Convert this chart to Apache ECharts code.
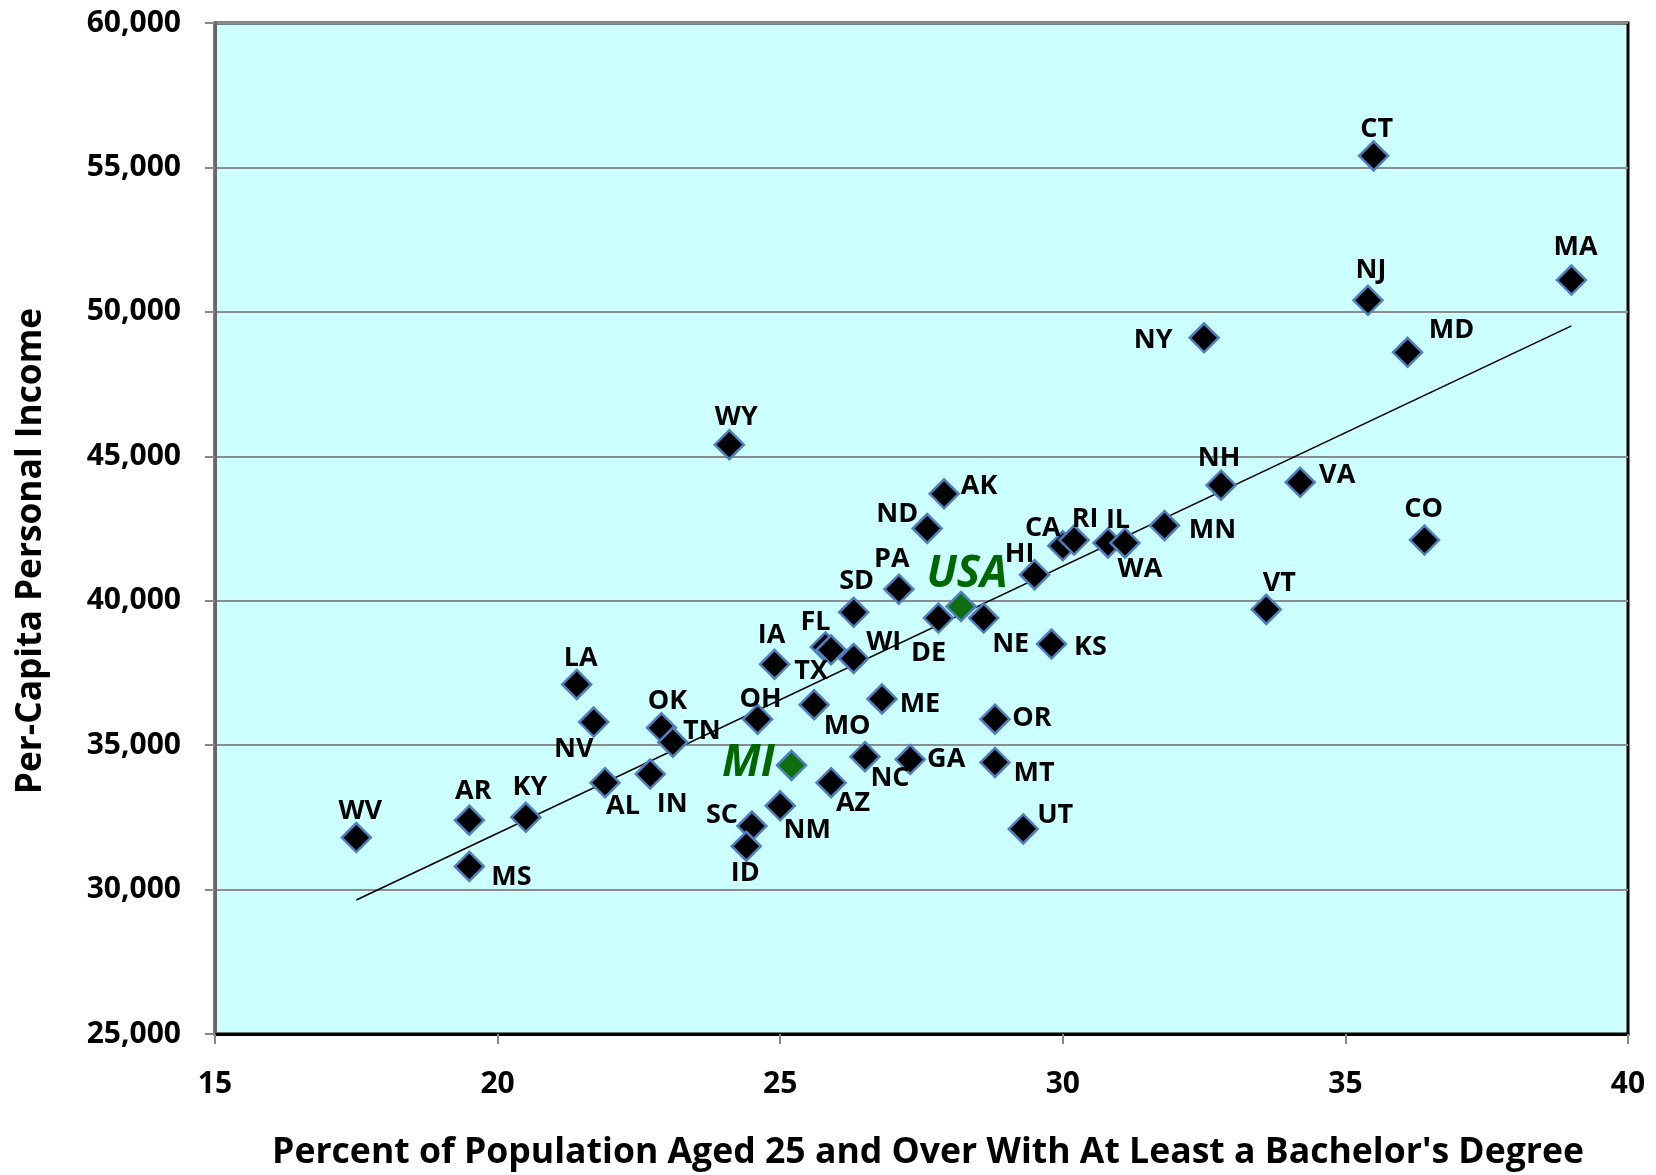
<!DOCTYPE html>
<html>
<head>
<meta charset="utf-8">
<script src="https://cdn.jsdelivr.net/npm/echarts@6/dist/echarts.min.js"></script>
<style>
html,body{margin:0;padding:0;background:#fff;}
#chart{width:1656px;height:1175px;}
</style>
</head>
<body>
<div id="chart"></div>
<script>
// ---- Data ----
const states = ["WV","AR","MS","KY","LA","NV","AL","IN","OK","TN","WY","SC","ID","OH","IA","NM","MO","FL","TX","WI","SD","AZ","NC","ME","PA","GA","ND","AK","DE","NE","OR","MT","UT","HI","KS","CA","RI","IL","WA","MN","NY","NH","VT","VA","NJ","CT","MD","CO","MA"];
const bachelorPct = [17.5,19.5,19.5,20.5,21.4,21.7,21.9,22.7,22.9,23.1,24.1,24.5,24.4,24.6,24.9,25.0,25.6,25.8,25.9,26.3,26.3,25.9,26.5,26.8,27.1,27.3,27.6,27.9,27.8,28.6,28.8,28.8,29.3,29.5,29.8,30.0,30.2,30.8,31.1,31.8,32.5,32.8,33.6,34.2,35.4,35.5,36.1,36.4,39.0];
const perCapitaIncome = [31800,32400,30800,32500,37100,35800,33700,34000,35600,35100,45400,32200,31500,35900,37800,32900,36400,38400,38300,38000,39600,33700,34600,36600,40400,34500,42500,43700,39400,39400,35900,34400,32100,40900,38500,41900,42100,42000,42000,42600,49100,44000,39700,44100,50400,55400,48600,42100,51100];
const highlightNames = ["USA","MI"];
const highlightPct = [28.2,25.2];
const highlightIncome = [39800,34300];
const xTicks = {min:15, max:40, interval:5};
const yTicks = {min:25000, max:60000, interval:5000};
const xTitle = "Percent of Population Aged 25 and Over With At Least a Bachelor's Degree";
const yTitle = "Per-Capita Personal Income";

// ---- Layout: label offsets (px) relative to marker centres ----
const labelOffsets = {
  WV:[4,-26],AR:[4,-29],MS:[42,11],KY:[4,-30],LA:[4,-26],NV:[-20,27],AL:[18,24],IN:[22,30],
  OK:[6,-26],TN:[29,-11],WY:[7,-27],SC:[-30,-11],ID:[-1,27],OH:[3,-20],IA:[-3,-29],NM:[27,25],
  MO:[33,22],FL:[-10,-25],TX:[-20,21],WI:[30,-16],SD:[3,-31],AZ:[22,21],NC:[25,22],ME:[38,5],
  PA:[-7,-30],GA:[36,0],ND:[-30,-14],AK:[35,-8],DE:[-10,35],NE:[27,26],OR:[37,-1],MT:[39,11],
  UT:[32,-14],HI:[-15,-20],KS:[39,3],CA:[-20,-18],RI:[11,-21],IL:[10,-23],WA:[15,26],MN:[48,5],
  NY:[-51,2],NH:[-2,-27],VT:[13,-26],VA:[37,-7],NJ:[3,-30],CT:[3,-27],MD:[44,-22],CO:[-1,-31],MA:[4,-33],
  USA:[6,-32],MI:[-43,-2]
};

// least-squares trendline from the state data
const n = bachelorPct.length;
let sx=0,sy=0,sxx=0,sxy=0;
for(let i=0;i<n;i++){sx+=bachelorPct[i];sy+=perCapitaIncome[i];sxx+=bachelorPct[i]*bachelorPct[i];sxy+=bachelorPct[i]*perCapitaIncome[i];}
const slope=(n*sxy-sx*sy)/(n*sxx-sx*sx);
const icpt=(sy-slope*sx)/n;
const xMin=Math.min(...bachelorPct), xMax=Math.max(...bachelorPct);
const trend=[[xMin,icpt+slope*xMin],[xMax,icpt+slope*xMax]];

const FONT = '"Open Sans"';
const stateData = states.map((s,i)=>({
  name:s, value:[bachelorPct[i],perCapitaIncome[i]],
  label:{offset:labelOffsets[s]}
}));
const hlData = highlightNames.map((s,i)=>({
  name:s, value:[highlightPct[i],highlightIncome[i]],
  label:{offset:labelOffsets[s]}
}));

const chart = echarts.init(document.getElementById('chart'), null, {renderer:'canvas'});
chart.setOption({
  animation:false,
  backgroundColor:'#ffffff',
  grid:{left:215,right:28,top:23,bottom:141,show:true,backgroundColor:'#CCFFFF',borderColor:'#000',borderWidth:3,containLabel:false},
  xAxis:{
    type:'value',min:xTicks.min,max:xTicks.max,interval:xTicks.interval,
    axisLine:{show:true,onZero:false,lineStyle:{color:'#000',width:3}},
    axisTick:{show:true,length:10,lineStyle:{color:'#888',width:2}},
    axisLabel:{margin:35,fontFamily:FONT,fontWeight:'bold',fontSize:30,color:'#000'},
    splitLine:{show:false}
  },
  yAxis:{
    type:'value',min:yTicks.min,max:yTicks.max,interval:yTicks.interval,
    axisLine:{show:true,onZero:false,lineStyle:{color:'#666',width:3}},
    axisTick:{show:true,length:10,lineStyle:{color:'#888',width:2}},
    axisLabel:{margin:34,fontFamily:FONT,fontWeight:'bold',fontSize:30,color:'#000',
      formatter:v=>v.toLocaleString('en-US')},
    splitLine:{show:true,lineStyle:{color:'#8c8c8c',width:2}}
  },
  graphic:[
    {type:'text',x:928,y:1153,style:{text:xTitle,fontFamily:FONT,fontWeight:'bold',fontSize:35.6,fill:'#000',textAlign:'center',textVerticalAlign:'middle'}},
    {type:'text',x:31,y:551,rotation:Math.PI/2,style:{text:yTitle,fontFamily:FONT,fontWeight:'bold',fontSize:35.3,fill:'#000',textAlign:'center',textVerticalAlign:'middle'}}
  ],
  series:[
    {type:'line',data:trend,symbol:'none',silent:true,z:2,lineStyle:{color:'#000',width:1.6}},
    {type:'scatter',data:stateData,symbol:'diamond',symbolSize:29,z:3,
      itemStyle:{color:'#000',borderColor:'#4f7fc0',borderWidth:2.5,opacity:1},
      label:{show:true,position:'inside',formatter:'{b}',fontFamily:FONT,fontWeight:'bold',fontSize:27,color:'#000'}},
    {type:'scatter',data:hlData,symbol:'diamond',symbolSize:29,z:4,
      itemStyle:{color:'#0f6f0f',borderColor:'#4f7fc0',borderWidth:2.5,opacity:1},
      label:{show:true,position:'inside',formatter:'{b}',fontFamily:FONT,fontWeight:'bold',fontStyle:'italic',fontSize:44,color:'#006600'}}
  ]
});
</script>
</body>
</html>
